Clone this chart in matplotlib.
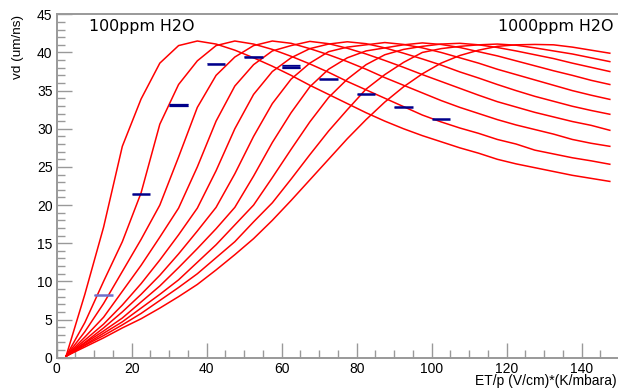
import matplotlib
matplotlib.use("Agg")
import matplotlib.pyplot as plt
from matplotlib.patches import Rectangle

# ---------------- data ----------------
ep = [2.5, 7.5, 12.5, 17.5, 22.5, 27.5, 32.5, 37.5, 42.5, 47.5,
      52.5, 57.5, 62.5, 67.5, 72.5, 77.5, 82.5, 87.5, 92.5, 97.5,
      102.5, 107.5, 112.5, 117.5, 122.5, 127.5, 132.5, 137.5, 142.5, 147.5]

vd_100ppm = [0.2, 8.3, 17.1, 27.7, 33.9, 38.6, 40.9, 41.5, 41.1, 40.3,
             39.3, 38.2, 37.0, 35.7, 34.5, 33.3, 32.1, 31.0, 30.0, 29.1,
             28.3, 27.5, 26.8, 26.0, 25.4, 24.9, 24.4, 23.9, 23.5, 23.1]
vd_200ppm = [0.2, 4.6, 10.0, 15.2, 21.6, 30.6, 35.8, 38.9, 40.9, 41.5,
             41.1, 40.4, 39.5, 38.5, 37.4, 36.2, 35.1, 34.0, 32.9, 31.8,
             30.9, 30.1, 29.4, 28.6, 28.0, 27.2, 26.7, 26.2, 25.8, 25.35]
vd_300ppm = [0.2, 3.4, 7.1, 11.3, 15.5, 20.0, 26.3, 32.8, 37.0, 39.4,
             40.9, 41.5, 41.2, 40.5, 39.7, 38.8, 37.8, 36.7, 35.7, 34.7,
             33.7, 32.8, 32.0, 31.2, 30.5, 29.9, 29.3, 28.6, 28.1, 27.7]
vd_400ppm = [0.2, 2.7, 5.3, 8.7, 12.1, 15.8, 19.6, 25.0, 31.0, 35.6,
             38.4, 40.2, 40.9, 41.45, 41.15, 40.55, 39.8, 38.95, 38.05, 37.1,
             36.2, 35.3, 34.4, 33.55, 32.85, 32.15, 31.55, 30.95, 30.45, 29.8]
vd_500ppm = [0.2, 2.3, 4.4, 6.9, 9.7, 12.8, 16.1, 19.6, 24.5, 30.0,
             34.5, 37.5, 39.3, 40.5, 41.1, 41.4, 41.15, 40.6, 39.9, 39.15,
             38.35, 37.45, 36.65, 35.8, 35.0, 34.25, 33.6, 32.95, 32.4, 31.9]
vd_600ppm = [0.2, 2.0, 3.9, 6.0, 8.3, 10.8, 13.6, 16.6, 19.7, 24.1,
             29.0, 33.3, 36.5, 38.6, 40.1, 40.7, 41.0, 41.3, 41.05, 40.6,
             40.0, 39.3, 38.6, 37.8, 37.1, 36.4, 35.7, 35.0, 34.4, 33.85]
vd_700ppm = [0.2, 1.9, 3.5, 5.2, 7.3, 9.4, 11.8, 14.3, 16.9, 19.7,
             23.8, 28.2, 32.1, 35.5, 37.8, 39.3, 40.2, 40.6, 41.0, 41.25,
             41.05, 40.65, 40.1, 39.55, 38.9, 38.25, 37.6, 37.0, 36.35, 35.8]
vd_800ppm = [0.2, 1.7, 3.2, 4.7, 6.5, 8.3, 10.2, 12.5, 14.8, 17.4,
             20.0, 23.6, 27.3, 30.9, 34.1, 36.5, 38.4, 39.7, 40.4, 40.8,
             41.1, 41.2, 41.0, 40.65, 40.2, 39.7, 39.2, 38.6, 38.05, 37.5]
vd_900ppm = [0.2, 1.6, 2.9, 4.3, 5.8, 7.5, 9.2, 11.0, 13.1, 15.2,
             17.8, 20.3, 23.4, 26.6, 29.7, 32.5, 35.2, 37.1, 38.7, 40.0,
             40.5, 40.8, 41.0, 41.1, 40.95, 40.6, 40.2, 39.8, 39.3, 38.8]
vd_1000ppm = [0.2, 1.4, 2.6, 3.9, 5.1, 6.5, 8.0, 9.6, 11.5, 13.5,
              15.6, 18.0, 20.6, 23.3, 26.0, 28.7, 31.2, 33.5, 35.5, 37.2,
              38.6, 39.6, 40.3, 40.8, 41.0, 41.05, 41.0, 40.7, 40.3, 39.9]

meas_x = [12.5, 22.5, 32.5, 42.5, 52.5, 62.5, 72.5, 82.5, 92.5, 102.5]
meas_y = [8.2, 21.4, 33.1, 38.5, 39.4, 38.15, 36.5, 34.5, 32.8, 31.25]
meas_err = [0.08, 0.08, 0.15, 0.06, 0.08, 0.15, 0.08, 0.06, 0.06, 0.06]
bin_half = 2.5

label_left = "100ppm H2O"
label_right = "1000ppm H2O"
x_title = "ET/p (V/cm)*(K/mbara)"
y_title = "vd (um/ns)"

curves = [vd_100ppm, vd_200ppm, vd_300ppm, vd_400ppm, vd_500ppm,
          vd_600ppm, vd_700ppm, vd_800ppm, vd_900ppm, vd_1000ppm]

# ---------------- plot ----------------
W, H = 618, 388
fig = plt.figure(figsize=(W / 100, H / 100), dpi=100)
left_px, right_px, top_px, bottom_px = 56.7, 619.2, 14.3, 357.7
ax = fig.add_axes([left_px / W, 1 - bottom_px / H,
                   (right_px - left_px) / W, (bottom_px - top_px) / H])

for c in curves:
    ax.plot(ep, c, color="#ff0000", lw=1.1, solid_joinstyle="miter", zorder=2)

for i, (x, y, e) in enumerate(zip(meas_x, meas_y, meas_err)):
    light = i == 0
    ax.add_patch(Rectangle((x - bin_half, y - e), 2 * bin_half, 2 * e,
                           facecolor="#8080d0", alpha=0.6, edgecolor="none",
                           zorder=3))
    ax.plot([x - bin_half, x + bin_half], [y, y],
            color="#7070cc" if light else "#00008b", lw=1.8,
            solid_capstyle="butt", zorder=4)
    if e > 0.1:
        for yy in (y - e, y + e):
            ax.plot([x - bin_half, x + bin_half], [yy, yy], color="#00008b",
                    lw=0.9, solid_capstyle="butt", zorder=4)

ax.set_xlim(0, 150)
ax.set_ylim(0, 45)
ax.set_xticks([0, 20, 40, 60, 80, 100, 120, 140])
ax.set_xticks(range(0, 151, 5), minor=True)
ax.set_yticks(range(0, 46, 5))
ax.set_yticks(range(0, 46, 1), minor=True)

gray = "#999999"
for s in ("left", "bottom", "top"):
    ax.spines[s].set_color(gray)
    ax.spines[s].set_linewidth(1.4)
ax.spines["right"].set_visible(False)
ax.tick_params(which="both", direction="in", color=gray, width=1.0,
               top=False, right=False)
ax.tick_params(which="major", length=11, pad=3)
ax.tick_params(which="minor", length=5.5)
for lab in ax.get_xticklabels() + ax.get_yticklabels():
    lab.set_fontfamily("Liberation Sans")
    lab.set_fontsize(10)

fig.text(89 / W, 1 - 19 / H, label_left, ha="left", va="top",
         fontsize=11.4, family="DejaVu Sans")
fig.text(613 / W, 1 - 19 / H, label_right, ha="right", va="top",
         fontsize=11.4, family="DejaVu Sans")

fig.text(617 / W, 1 - 381.5 / H, x_title, ha="right", va="center",
         fontsize=10, family="Liberation Sans")
fig.text(18 / W, 1 - 15 / H, y_title, ha="center", va="top", rotation=90,
         fontsize=9.7, family="Liberation Sans")

fig.savefig("out.png", dpi=100)
